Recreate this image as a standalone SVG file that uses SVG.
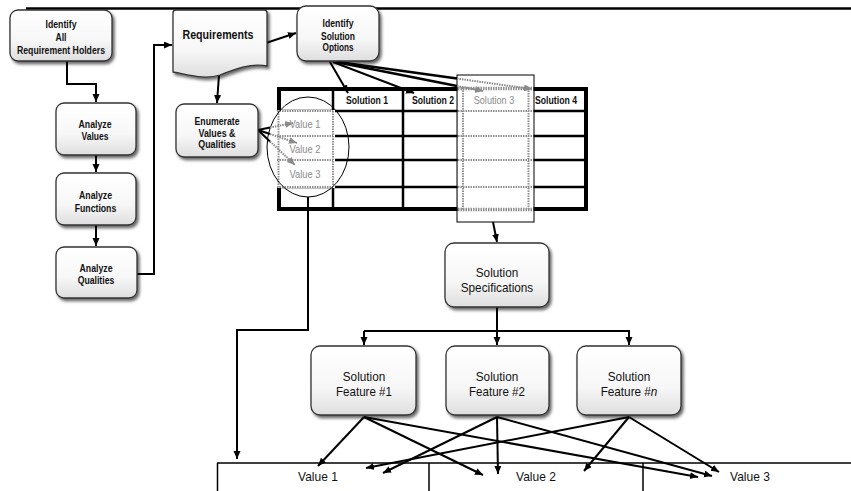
<svg xmlns="http://www.w3.org/2000/svg" width="851" height="491" viewBox="0 0 851 491">
<defs>
<linearGradient id="g" x1="0" y1="0" x2="0" y2="1"><stop offset="0" stop-color="#ffffff"/><stop offset="0.6" stop-color="#f7f7f7"/><stop offset="1" stop-color="#dedede"/></linearGradient>
<filter id="sh" x="-20%" y="-20%" width="150%" height="150%"><feDropShadow dx="2" dy="2.5" stdDeviation="1.4" flood-color="#000" flood-opacity="0.6"/></filter>
<marker id="ah" markerUnits="userSpaceOnUse" markerWidth="9" markerHeight="8" refX="8" refY="3.5" orient="auto"><path d="M0,0 L8,3.5 L0,7 z" fill="#000"/></marker>
<marker id="ahg" markerUnits="userSpaceOnUse" markerWidth="9" markerHeight="8" refX="8" refY="3.5" orient="auto"><path d="M0,0 L8,3.5 L0,7 z" fill="#8a8a8a"/></marker>
</defs>
<style>
.box{fill:url(#g);stroke:#333;stroke-width:1.3;filter:url(#sh)}
.t{font-family:"Liberation Sans",Arial,sans-serif;text-anchor:middle;fill:#111}
.b{font-weight:bold;font-size:10px}
.L{font-size:13.5px}
.gt{fill:#8a8a8a;font-size:10.5px}
.c{fill:none;stroke:#000;stroke-width:2}
.cg{fill:none;stroke:#8a8a8a;stroke-width:2;stroke-dasharray:1.5 1}
.a{marker-end:url(#ah)}
.ag{marker-end:url(#ahg)}
.tl{fill:none;stroke:#000;stroke-width:2.5}
.dl{fill:none;stroke:#8f8f8f;stroke-width:2;stroke-dasharray:1.5 1}
</style>
<rect width="851" height="491" fill="#fff"/>
<path d="M26,8.5 H851" stroke="#000" stroke-width="2.5"/>
<g id="table">
<rect x="279" y="89" width="307" height="120" fill="#fff" stroke="#000" stroke-width="4"/>
<path class="tl" d="M333,87 V211 M403,87 V211 M459,87 V211 M530,87 V211 M277,111 H588 M277,136 H588 M277,160 H588 M277,187 H588"/>
<rect x="275" y="110" width="60" height="78" fill="#fff"/>
<path class="dl" d="M278.5,111 V187 M333,111 V187 M277,111 H333 M277,136 H333 M277,160 H333 M277,187 H333"/>
<rect x="457.5" y="84" width="76" height="130" fill="#fff"/>
<path class="dl" style="stroke-width:3.5" d="M458,88.5 H533 M458,209.5 H533"/>
<path class="dl" d="M463,88 V210 M528.5,88 V210 M458,111 H533 M458,136 H533 M458,160 H533 M458,187 H533"/>
<rect x="457" y="75" width="77" height="147" fill="none" stroke="#000" stroke-width="1"/>
<ellipse cx="308" cy="147" rx="41" ry="50" fill="none" stroke="#000" stroke-width="1"/>
<text class="t b" x="367" y="104" textLength="42" lengthAdjust="spacingAndGlyphs">Solution 1</text>
<text class="t b" x="433" y="104" textLength="42" lengthAdjust="spacingAndGlyphs">Solution 2</text>
<text class="t gt" x="494" y="104" textLength="40.6" lengthAdjust="spacingAndGlyphs">Solution 3</text>
<text class="t b" x="556" y="104" textLength="42" lengthAdjust="spacingAndGlyphs">Solution 4</text>
<text class="t gt" x="305" y="128" textLength="31" lengthAdjust="spacingAndGlyphs">Value 1</text>
<text class="t gt" x="305" y="152.5" textLength="31" lengthAdjust="spacingAndGlyphs">Value 2</text>
<text class="t gt" x="305" y="177.5" textLength="31" lengthAdjust="spacingAndGlyphs">Value 3</text>
</g>
<g id="values">
<path d="M217,463 H851 M217.5,463 V491 M429,463 V491 M643,463 V491" fill="none" stroke="#000" stroke-width="1.5"/>
<text class="t L" x="318" y="481" textLength="39.8" lengthAdjust="spacingAndGlyphs">Value 1</text>
<text class="t L" x="536" y="481" textLength="39.8" lengthAdjust="spacingAndGlyphs">Value 2</text>
<text class="t L" x="750" y="481" textLength="39.8" lengthAdjust="spacingAndGlyphs">Value 3</text>
</g>
<g id="connectors">
<path class="c a" d="M67,61 V84 H96 V102"/>
<path class="c a" d="M96,155 V172"/>
<path class="c a" d="M96,225 V246"/>
<path class="c a" d="M137,274 H154 V45 H172"/>
<path class="c a" d="M219,75 L217,103"/>
<path class="c a" d="M266,43 L296,33"/>
<path class="c a" d="M330,62 L348,93"/>
<path class="c a" d="M333,62 L414,93"/>
<path class="c" style="stroke-width:2.5" d="M336,62 L457,85.9"/>
<path class="cg ag" d="M457,85.9 L483,91"/>
<path class="c" style="stroke-width:2.5" d="M338,62 L457,78.6"/>
<path class="cg ag" d="M457,78.6 L532,89"/>
<path class="c" d="M258,130 L270,127.6 M258,130 L270,134 M258,130 L270,141.4"/>
<path class="cg ag" d="M270,127.6 L293,123"/>
<path class="cg ag" d="M270,134 L297,143"/>
<path class="cg ag" d="M270,141.4 L295,165"/>
<path class="c a" d="M493,222 L497,242"/>
<path class="c" d="M497,307 V331 M364,331 H630"/>
<path class="c a" d="M364,331 V345"/>
<path class="c a" d="M497,331 V345"/>
<path class="c a" d="M629,331 V345"/>
<path class="c a" d="M308,197 V330 H237 V459"/>
<path class="c a" d="M364,417 L318,466"/>
<path class="c a" d="M629,417 L366,468"/>
<path class="c a" d="M497,417 L383,473"/>
<path class="c a" d="M364,417 L483,475"/>
<path class="c a" d="M497,417 L498,474"/>
<path class="c a" d="M629,417 L584,471"/>
<path class="c a" d="M364,417 L698,477"/>
<path class="c a" d="M497,417 L712,476"/>
<path class="c a" d="M629,417 L719,472"/>
</g>
<g id="identify-holders">
<rect class="box" x="10" y="10" width="102" height="51" rx="8"/>
<text class="t b" x="61" y="28" textLength="31" lengthAdjust="spacingAndGlyphs">Identify</text>
<text class="t b" x="61" y="41" textLength="11" lengthAdjust="spacingAndGlyphs">All</text>
<text class="t b" x="61" y="54" textLength="88" lengthAdjust="spacingAndGlyphs">Requirement Holders</text>
</g>
<g id="analyze-values">
<rect class="box" x="56" y="103" width="80" height="52" rx="8"/>
<text class="t b" x="95" y="128" textLength="33" lengthAdjust="spacingAndGlyphs">Analyze</text>
<text class="t b" x="95" y="140" textLength="27" lengthAdjust="spacingAndGlyphs">Values</text>
</g>
<g id="analyze-functions">
<rect class="box" x="56" y="173" width="80" height="52" rx="8"/>
<text class="t b" x="95.5" y="199" textLength="33" lengthAdjust="spacingAndGlyphs">Analyze</text>
<text class="t b" x="95.5" y="212" textLength="41.6" lengthAdjust="spacingAndGlyphs">Functions</text>
</g>
<g id="analyze-qualities">
<rect class="box" x="56" y="247" width="81" height="51" rx="8"/>
<text class="t b" x="96" y="272" textLength="33" lengthAdjust="spacingAndGlyphs">Analyze</text>
<text class="t b" x="96" y="284" textLength="36.7" lengthAdjust="spacingAndGlyphs">Qualities</text>
</g>
<g id="requirements">
<path class="box" d="M173,13 Q173,10 176,10 H264 Q267,10 267,13 V66 C250,63 235,69 220,75 C205,80 190,75 173,72 Z"/>
<text class="t" style="font-weight:bold;font-size:12px" x="218" y="38.5" textLength="71" lengthAdjust="spacingAndGlyphs">Requirements</text>
</g>
<g id="enumerate">
<rect class="box" x="176" y="104" width="82" height="53" rx="8"/>
<text class="t b" x="217" y="125" textLength="45" lengthAdjust="spacingAndGlyphs">Enumerate</text>
<text class="t b" x="217" y="136.5" textLength="37" lengthAdjust="spacingAndGlyphs">Values &amp;</text>
<text class="t b" x="217" y="148" textLength="37.5" lengthAdjust="spacingAndGlyphs">Qualities</text>
</g>
<g id="identify-options">
<rect class="box" x="297" y="6" width="82" height="55" rx="9"/>
<text class="t b" x="338" y="27" textLength="31" lengthAdjust="spacingAndGlyphs">Identify</text>
<text class="t b" x="338" y="39.5" textLength="34" lengthAdjust="spacingAndGlyphs">Solution</text>
<text class="t b" x="338" y="51" textLength="31" lengthAdjust="spacingAndGlyphs">Options</text>
</g>
<g id="specifications">
<rect class="box" x="445" y="243" width="104" height="64" rx="9"/>
<text class="t L" x="497" y="277" textLength="42.4" lengthAdjust="spacingAndGlyphs">Solution</text>
<text class="t L" x="497" y="292" textLength="72.5" lengthAdjust="spacingAndGlyphs">Specifications</text>
</g>
<g id="feature-1">
<rect class="box" x="311" y="346" width="105" height="69" rx="9"/>
<text class="t L" x="364" y="381" textLength="42.4" lengthAdjust="spacingAndGlyphs">Solution</text>
<text class="t L" x="364" y="396" textLength="56" lengthAdjust="spacingAndGlyphs">Feature #1</text>
</g>
<g id="feature-2">
<rect class="box" x="446" y="346" width="103" height="69" rx="9"/>
<text class="t L" x="497" y="381" textLength="42.4" lengthAdjust="spacingAndGlyphs">Solution</text>
<text class="t L" x="497" y="396" textLength="56" lengthAdjust="spacingAndGlyphs">Feature #2</text>
</g>
<g id="feature-n">
<rect class="box" x="577" y="346" width="104" height="69" rx="9"/>
<text class="t L" x="629" y="381" textLength="42.4" lengthAdjust="spacingAndGlyphs">Solution</text>
<text class="t L" transform="translate(629,396) scale(0.87,1)" x="0" y="0">Feature #<tspan font-style="italic">n</tspan></text>
</g>
</svg>
